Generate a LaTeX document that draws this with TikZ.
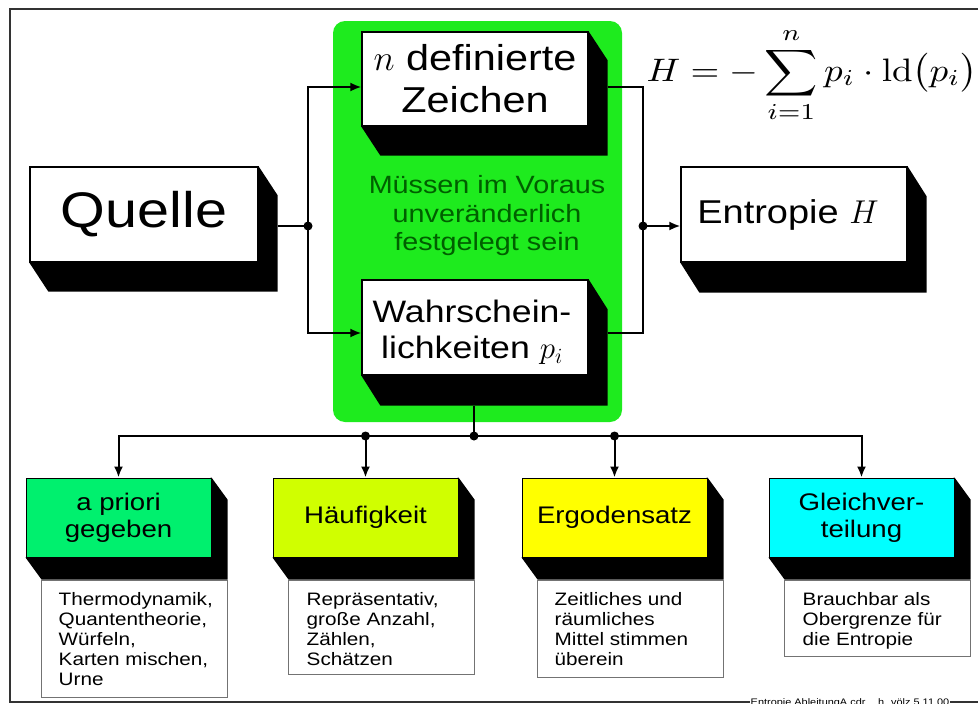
\documentclass[tikz,border=0pt]{standalone}
\usepackage{fix-cm}
\usepackage[no-math]{fontspec}
\setmainfont[FakeStretch=1.15]{Liberation Sans}
\usetikzlibrary{arrows.meta}
\pgfdeclarelayer{glayer}
\pgfdeclarelayer{slayer}
\pgfsetlayers{glayer,slayer,main}
\definecolor{biggreen}{RGB}{30,235,30}
\definecolor{textgreen}{RGB}{0,95,0}
\definecolor{mint}{RGB}{0,240,110}
\definecolor{lime}{RGB}{208,255,0}
\definecolor{yel}{RGB}{255,255,0}
\definecolor{cya}{RGB}{0,255,255}
\newcommand\boxshadow[3]{%
  \begin{pgfonlayer}{slayer}
  \fill (#1.north east) -- ++(#2,#3) -- ([shift={(#2,#3)}]#1.south east)
    -- ([shift={(#2,#3)}]#1.south west) -- (#1.south west) -- cycle;
  \end{pgfonlayer}}
\tikzset{
  conn/.style={line width=2pt},
  arr/.style={conn,-{Latex[length=11pt,width=9pt]}},
  dotmark/.style={circle,fill=black,inner sep=0,minimum size=9pt},
  mainbox/.style={draw=black,line width=1.3pt,fill=white,inner sep=0,align=center},
  titlebox/.style={draw=black,line width=1pt,inner sep=0,align=center,
    minimum width=185pt,minimum height=79pt,font=\fontsize{24}{27}\selectfont},
  descbox/.style={draw=black!55,line width=1.3pt,fill=white,inner sep=0,
    minimum width=186pt,anchor=north west},
  desctext/.style={anchor=north west,inner sep=0,align=left,
    font=\fontsize{18}{20}\selectfont},
}
\begin{document}
\begin{tikzpicture}[x=1pt,y=-1pt]
\useasboundingbox (0,0) rectangle (978,704);
% frame
\draw[line width=1.5pt,black!80] (978,9) -- (10,9) -- (10,702) -- (978,702);
\node[fill=white,inner sep=1pt,anchor=north,font=\fontsize{9.5}{11}\selectfont] (foot)
  at (850,697) {Entropie AbleitungA.cdr \quad h. völz 5.11.00};
% green panel
\begin{pgfonlayer}{glayer}
\fill[biggreen,rounded corners=12pt] (333,21) rectangle (622,422);
\end{pgfonlayer}
% main boxes
\node[mainbox,minimum width=228pt,minimum height=95pt,font=\fontsize{50}{55}\selectfont]
  (quelle) at (144,214.5) {Quelle};
\boxshadow{quelle}{19}{29}
\node[mainbox,minimum width=226pt,minimum height=94pt,font=\fontsize{36}{42}\selectfont]
  (nbox) at (475,79) {$n$ definierte\\Zeichen};
\boxshadow{nbox}{19}{29}
\node[mainbox,minimum width=226pt,minimum height=95pt] (wbox) at (475,327.5) {};
\node[align=center,inner sep=0,font=\fontsize{31}{36}\selectfont] (wtext)
  at ([shift={(-3,5)}]wbox.center) {Wahrschein-\\lichkeiten $p_i$};
\boxshadow{wbox}{19}{30}
\node[mainbox,minimum width=226pt,minimum height=95pt,font=\fontsize{33}{36}\selectfont]
  (ebox) at (794,214.5) {Entropie $H$\hspace{12pt}};
\boxshadow{ebox}{19}{30}
\node[align=center,text=textgreen,font=\fontsize{25}{28.5}\selectfont] (gtext)
  at (487,216) {Müssen im Voraus\\unveränderlich\\festgelegt sein};
\node[anchor=base,inner sep=0] (formula) at (812,81)
  {\scalebox{3.7}[3.25]{$\displaystyle H=-\sum_{i=1}^{n} p_i\cdot \mathrm{ld}\bigl(p_i\bigr)$}};
% connectors top
\coordinate (j1) at (308,226);
\coordinate (j2) at (643,226);
\draw[conn] ([shift={(19,11.5)}]quelle.east) -- (j1);
\draw[arr] (j1) |- ([shift={(0,8)}]nbox.west);
\draw[arr] (j1) |- ([shift={(0,5.5)}]wbox.west);
\draw[conn] ([shift={(19,8)}]nbox.east) -| (j2);
\draw[conn] ([shift={(19,5.5)}]wbox.east) -| (j2);
\draw[arr] (j2) -- ([shift={(0,11.5)}]ebox.west);
\node[dotmark] (d1dot) at (j1) {};
\node[dotmark] (d2dot) at (j2) {};
% bottom boxes
\node[titlebox,fill=mint] (b1) at (118.5,517.5) {a priori\\gegeben};
\boxshadow{b1}{16}{22}
\node[titlebox,fill=lime] (b2) at (365.5,517.5) {Häufigkeit};
\boxshadow{b2}{16}{22}
\node[titlebox,fill=yel] (b3) at (614.5,517.5) {Ergodensatz};
\boxshadow{b3}{16}{22}
\node[titlebox,fill=cya] (b4) at (861.5,517.5) {Gleichver-\\teilung};
\boxshadow{b4}{16}{22}
\node[descbox,minimum height=117pt] (d1) at ([shift={(15,22)}]b1.south west) {};
\node[descbox,minimum height=94pt] (d2) at ([shift={(15,22)}]b2.south west) {};
\node[descbox,minimum height=97pt] (d3) at ([shift={(15,22)}]b3.south west) {};
\node[descbox,minimum height=76pt] (d4) at ([shift={(15,22)}]b4.south west) {};
\node[desctext] (t1) at ([shift={(18,13)}]d1.north west)
  {Thermodynamik,\\Quantentheorie,\\Würfeln,\\Karten mischen,\\Urne};
\node[desctext] (t2) at ([shift={(19,13)}]d2.north west)
  {Repräsentativ,\\große Anzahl,\\Zählen,\\Schätzen};
\node[desctext] (t3) at ([shift={(18,13)}]d3.north west)
  {Zeitliches und\\räumliches\\Mittel stimmen\\überein};
\node[desctext] (t4) at ([shift={(19,13)}]d4.north west)
  {Brauchbar als\\Obergrenze für\\die Entropie};
% bus
\coordinate (j3) at (474,436);
\draw[conn] ([shift={(-1,30)}]wbox.south) -- (j3);
\draw[arr] (j3) -| (b1.north);
\draw[arr] (j3) -| (b4.north);
\draw[arr] (b2.north |- j3) -- (b2.north);
\draw[arr] (b3.north |- j3) -- (b3.north);
\node[dotmark] (d3dot) at (j3) {};
\node[dotmark] (d4dot) at (b2.north |- j3) {};
\node[dotmark] (d5dot) at (b3.north |- j3) {};
\end{tikzpicture}
\end{document}
